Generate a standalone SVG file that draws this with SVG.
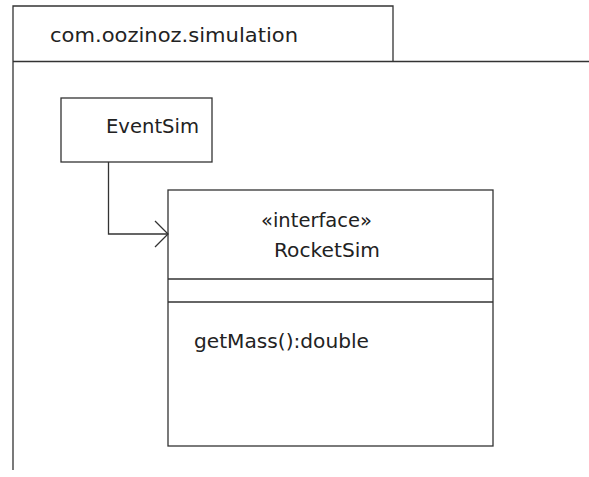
<svg xmlns="http://www.w3.org/2000/svg" width="589" height="477" viewBox="0 0 589 477">
<style>
.ln{fill:none;stroke:#333;stroke-width:1.3}
.box{fill:#fff;stroke:#333;stroke-width:1.3}
text{font-family:"DejaVu Sans","Liberation Sans",sans-serif;font-size:19px;fill:#222}
</style>
<defs>
<marker id="open" markerWidth="16" markerHeight="28" refX="14" refY="14" orient="auto" markerUnits="userSpaceOnUse">
<path d="M1,1 L14,14 L1,27" fill="none" stroke="#333" stroke-width="1.3"/>
</marker>
</defs>
<rect width="589" height="477" fill="#fff"/>
<g id="package">
<path class="ln" d="M13,470 L13,6 L393,6 L393,61.5"/>
<path class="ln" d="M13,61.5 L589,61.5"/>
<text x="50" y="42" textLength="248" lengthAdjust="spacingAndGlyphs">com.oozinoz.simulation</text>
</g>
<g id="EventSim">
<rect class="box" x="61" y="98" width="151" height="64"/>
<text x="106" y="133" textLength="93" lengthAdjust="spacingAndGlyphs">EventSim</text>
</g>
<g id="RocketSim">
<rect class="box" x="168" y="190" width="325" height="256"/>
<line class="ln" x1="168" y1="279" x2="493" y2="279"/>
<line class="ln" x1="168" y1="302" x2="493" y2="302"/>
<text x="261" y="227" textLength="111" lengthAdjust="spacingAndGlyphs">«interface»</text>
<text x="274" y="257" textLength="106" lengthAdjust="spacingAndGlyphs">RocketSim</text>
<text x="194" y="348" textLength="175" lengthAdjust="spacingAndGlyphs">getMass():double</text>
</g>
<g id="connectors">
<path class="ln" d="M108.5,162 L108.5,234 L168,234" marker-end="url(#open)"/>
</g>
</svg>
